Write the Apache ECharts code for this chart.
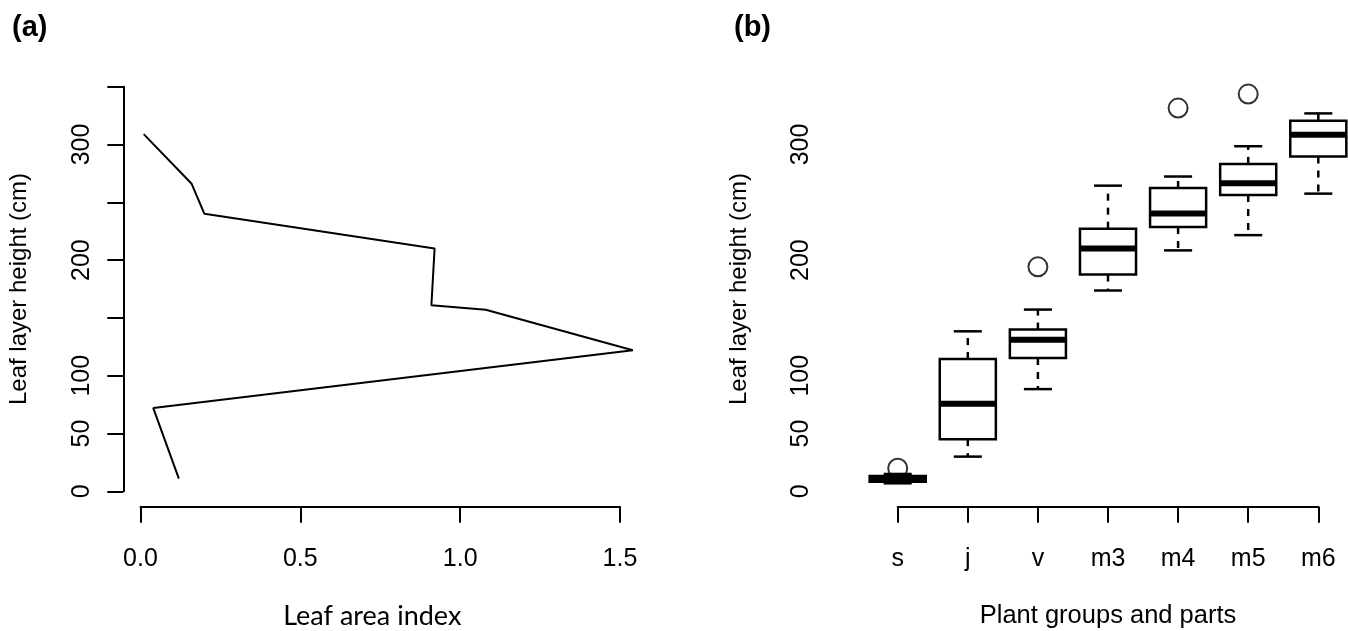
<!DOCTYPE html>
<html>
<head>
<meta charset="utf-8">
<script src="https://cdn.jsdelivr.net/npm/echarts@6/dist/echarts.min.js"></script>
<style>
html, body { margin: 0; padding: 0; background: #fff; }
#chart { width: 1348px; height: 631px; }
</style>
</head>
<body>
<div id="chart"></div>
<script>
// (a) leaf area index by layer height
const layerHeight = [309, 266, 240, 210, 161, 157, 122, 72, 11];
const leafAreaIndex = [0.01, 0.16, 0.20, 0.92, 0.91, 1.08, 1.54, 0.04, 0.12];

// (b) boxplots of leaf layer height per group
const groups = ['s', 'j', 'v', 'm3', 'm4', 'm5', 'm6'];
const whiskerLow = [6.9, 30, 88.4, 173.7, 208.4, 221.6, 257.5];
const q1 = [8.3, 45.1, 115.3, 187.5, 228.6, 256.3, 289.6];
const median = [10.9, 75.7, 131.2, 210.1, 240.4, 266.5, 308.4];
const q3 = [13.2, 114.4, 139.9, 227.2, 262.4, 283.2, 320.5];
const whiskerHigh = [15, 138.4, 157.2, 264.4, 272.3, 298.5, 326.9];
const outlierGroup = ['s', 'v', 'm4', 'm5'];
const outlierValue = [19.9, 194.2, 331.5, 343.6];

// R drops the overlapping labels, only these are printed
const yLabelsShown = [0, 50, 100, 200, 300];

const font = '"Liberation Sans", Arial, sans-serif';

const axisLine = { onZero: false, lineStyle: { color: '#000', width: 2 } };
const axisTick = { inside: false, length: 16, lineStyle: { color: '#000', width: 2 } };

function yAxisFor(gridIndex, offset) {
    return {
        type: 'value',
        gridIndex: gridIndex,
        min: 0,
        max: 350,
        interval: 50,
        offset: offset,
        axisLine: axisLine,
        axisTick: axisTick,
        splitLine: { show: false },
        axisLabel: {
            rotate: 90,
            margin: 29,
            color: '#000',
            fontFamily: font,
            fontSize: 25,
            formatter: (v) => (yLabelsShown.includes(v) ? String(v) : ''),
        },
        name: 'Leaf layer height (cm)',
        nameLocation: 'middle',
        nameRotate: 90,
        nameGap: 92,
        nameTextStyle: { color: '#000', fontFamily: font, fontSize: 24 },
    };
}

// hidden axis pair, same scale as panel (a) but with R's padded range
const hiddenAxis = { show: false, axisLine: { show: false }, axisTick: { show: false }, axisLabel: { show: false }, splitLine: { show: false } };

const renderBox = (params, api) => {
    const idx = api.value(0);
    const pLow = api.coord([idx, api.value(1)]);
    const pQ1 = api.coord([idx, api.value(2)]);
    const pMed = api.coord([idx, api.value(3)]);
    const pQ3 = api.coord([idx, api.value(4)]);
    const pHigh = api.coord([idx, api.value(5)]);
    const half = api.size([1, 0])[0] * 0.4; // boxwex 0.8
    const cap = half * 0.5; // staplewex 0.5
    const x = pMed[0];
    const solid = { stroke: '#000', lineWidth: 2.5 };
    const dashed = { stroke: '#000', lineWidth: 2.5, lineDash: [7, 7] };
    return {
        type: 'group',
        children: [
            { type: 'line', shape: { x1: x, y1: pQ3[1], x2: x, y2: pHigh[1] }, style: dashed },
            { type: 'line', shape: { x1: x, y1: pQ1[1], x2: x, y2: pLow[1] }, style: dashed },
            { type: 'line', shape: { x1: x - cap, y1: pHigh[1], x2: x + cap, y2: pHigh[1] }, style: solid },
            { type: 'line', shape: { x1: x - cap, y1: pLow[1], x2: x + cap, y2: pLow[1] }, style: solid },
            {
                type: 'rect',
                shape: { x: x - half, y: pQ3[1], width: half * 2, height: pQ1[1] - pQ3[1] },
                style: { fill: '#fff', stroke: '#000', lineWidth: 2.5 },
            },
            { type: 'line', shape: { x1: x - half, y1: pMed[1], x2: x + half, y2: pMed[1] }, style: { stroke: '#000', lineWidth: 6 } },
        ],
    };
};

const chart = echarts.init(document.getElementById('chart'));

const option = {
    animation: false,
    backgroundColor: '#fff',
    title: [
        { text: '(a)', left: 12, top: 13, padding: 0, textStyle: { fontFamily: font, fontSize: 29, fontWeight: 'bold', color: '#000' } },
        { text: '(b)', left: 734, top: 13, padding: 0, textStyle: { fontFamily: font, fontSize: 29, fontWeight: 'bold', color: '#000' } },
    ],
    grid: [
        { left: 140.5, right: 728, top: 86.7, bottom: 139.7, outerBoundsMode: 'none' },
        { left: 897.7, right: 29.7, top: 86.7, bottom: 139.7, outerBoundsMode: 'none' },
        // x: -0.06..1.6, y: -20..370 on the same pixel scale as grid 0
        { left: 121.32, right: 696.03, top: 63.58, bottom: 116.58, outerBoundsMode: 'none' },
    ],
    xAxis: [
        {
            type: 'value',
            gridIndex: 0,
            min: 0,
            max: 1.5,
            interval: 0.5,
            offset: 15.4,
            axisLine: axisLine,
            axisTick: axisTick,
            splitLine: { show: false },
            axisLabel: {
                margin: 40,
                color: '#000',
                fontFamily: font,
                fontSize: 25,
                formatter: (v) => v.toFixed(1),
            },
            name: 'Leaf area index',
            nameLocation: 'middle',
            nameGap: 96,
            nameTextStyle: { color: '#000', fontFamily: 'Lato, "Open Sans", sans-serif', fontSize: 27, padding: [0, 16, 0, 0] },
        },
        {
            type: 'category',
            gridIndex: 1,
            data: groups,
            boundaryGap: false,
            offset: 15.4,
            axisLine: axisLine,
            axisTick: Object.assign({ alignWithLabel: true, interval: 0 }, axisTick),
            splitLine: { show: false },
            axisLabel: { interval: 0, margin: 40, color: '#000', fontFamily: font, fontSize: 25 },
            name: 'Plant groups and parts',
            nameLocation: 'middle',
            nameGap: 96,
            nameTextStyle: { color: '#000', fontFamily: font, fontSize: 25.5 },
        },
        Object.assign({ type: 'value', gridIndex: 2, min: -0.06, max: 1.6 }, hiddenAxis),
    ],
    yAxis: [
        yAxisFor(0, 17.2),
        yAxisFor(1, 54.7),
        Object.assign({ type: 'value', gridIndex: 2, min: -20, max: 370 }, hiddenAxis),
    ],
    series: [
        {
            type: 'line',
            xAxisIndex: 2,
            yAxisIndex: 2,
            data: leafAreaIndex.map((v, i) => [v, layerHeight[i]]),
            symbol: 'none',
            clip: false,
            lineStyle: { color: '#000', width: 2 },
        },
        {
            type: 'custom',
            xAxisIndex: 1,
            yAxisIndex: 1,
            renderItem: renderBox,
            clip: false,
            encode: { x: 0, y: [1, 2, 3, 4, 5] },
            data: groups.map((g, i) => [i, whiskerLow[i], q1[i], median[i], q3[i], whiskerHigh[i]]),
        },
        {
            type: 'scatter',
            xAxisIndex: 1,
            yAxisIndex: 1,
            symbol: 'circle',
            symbolSize: 19,
            clip: false,
            itemStyle: { color: 'rgba(0,0,0,0)', borderColor: '#000', borderWidth: 2 },
            data: outlierGroup.map((g, i) => [groups.indexOf(g), outlierValue[i]]),
            z: 3,
        },
    ],
};

chart.setOption(option);
</script>
</body>
</html>
